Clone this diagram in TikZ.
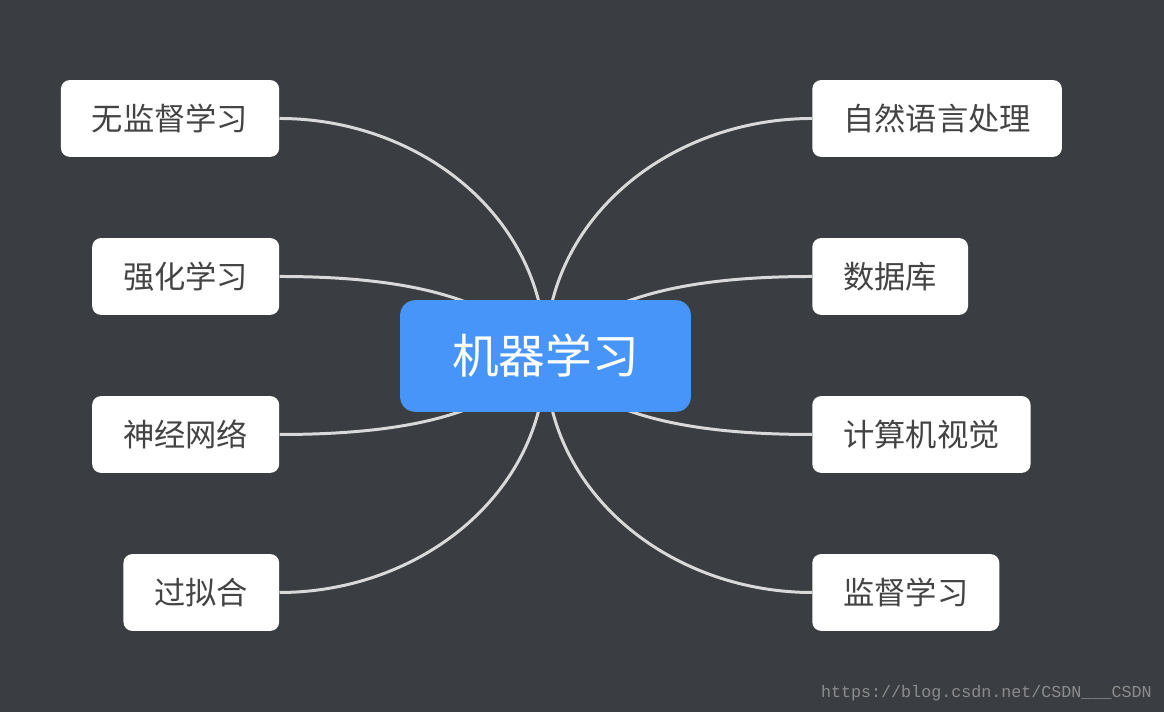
\documentclass[tikz,border=0pt]{standalone}
\usepackage{fontspec}
\newfontfamily\cjk{Noto Sans CJK SC}
\setmonofont{Liberation Mono}
\definecolor{bg}{HTML}{3A3D42}
\definecolor{mlblue}{HTML}{4895FA}
\definecolor{leaftext}{HTML}{444444}
\definecolor{linkgray}{HTML}{D9D9D9}
\definecolor{markgray}{HTML}{8C8C8C}
\pgfdeclarelayer{back}
\pgfsetlayers{back,main}
\begin{document}
\begin{tikzpicture}[x=0.02cm,y=0.02cm,
  leaf/.style={fill=white,rounded corners=5pt,minimum height=43.7pt,inner xsep=17.6pt,inner ysep=0pt,
    text=leaftext,font=\cjk\fontsize{17.8}{20}\selectfont,text height=15.7pt,text depth=2.1pt},
  link/.style={linkgray,line width=1.7pt},
  sidebend/.style={out distance=2.82cm,in distance=1.4cm}]
\useasboundingbox (0,0) rectangle (1164,712);
\node[fill=mlblue,rounded corners=8.5pt,minimum width=165.5pt,minimum height=63.5pt,text=white,
  font=\cjk\fontsize{26.6}{30}\selectfont,text height=23.4pt,text depth=3.2pt] (ML) at (545.5,356) {机器学习};
%% left
\node[leaf,anchor=east] (L1) at (279.5,593.5) {无监督学习};
\node[leaf,anchor=east] (L2) at (279.5,435.5) {强化学习};
\node[leaf,anchor=east] (L3) at (279.5,277.5) {神经网络};
\node[leaf,anchor=east] (L4) at (279.5,119.5) {过拟合};
%% right
\node[leaf,anchor=west] (R1) at (812,593.5) {自然语言处理};
\node[leaf,anchor=west] (R2) at (812,435.5) {数据库};
\node[leaf,anchor=west] (R3) at (812,277.5) {计算机视觉};
\node[leaf,anchor=west] (R4) at (812,119.5) {监督学习};
\node[anchor=base east,inner sep=0pt,text=markgray,font=\ttfamily\fontsize{9.5}{11}\selectfont] (mark) at (1152,14) {https://blog.csdn.net/CSDN\_\_\_CSDN};
\begin{pgfonlayer}{back}
\fill[bg] (0,0) rectangle (1164,712);
\draw[link] (L1.east) to[out=0,in=90] (ML.center);
\draw[link] (L2.east) to[out=0,in=130,sidebend] (ML.center);
\draw[link] (L3.east) to[out=0,in=230,sidebend] (ML.center);
\draw[link] (L4.east) to[out=0,in=270] (ML.center);
\draw[link] (R1.west) to[out=180,in=90] (ML.center);
\draw[link] (R2.west) to[out=180,in=50,sidebend] (ML.center);
\draw[link] (R3.west) to[out=180,in=310,sidebend] (ML.center);
\draw[link] (R4.west) to[out=180,in=270] (ML.center);
\end{pgfonlayer}
\end{tikzpicture}
\end{document}
